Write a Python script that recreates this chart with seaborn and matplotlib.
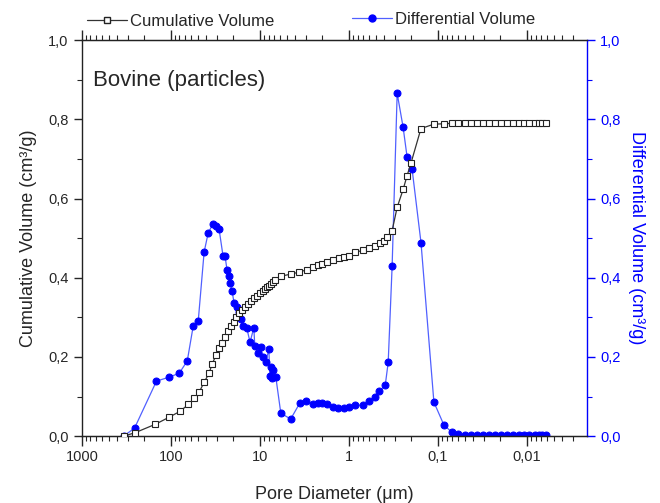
import matplotlib
matplotlib.use("Agg")
import matplotlib.pyplot as plt
import matplotlib.ticker as mticker
from matplotlib.lines import Line2D
import seaborn as sns
import pandas as pd

# ---- data ----
cum_diam = [340, 256, 149, 104, 78.3, 63.7, 54.6, 48.1, 42.3, 37.2, 34.4, 31.0, 28.7,
            26.6, 24.6, 22.8, 21.1, 19.5, 18.5, 17.2, 15.9, 14.7, 13.6, 12.6, 11.7,
            10.8, 10.0, 9.26, 8.79, 8.36, 7.93, 7.53, 7.16, 6.80, 5.82, 4.51, 3.67,
            2.98, 2.56, 2.25, 1.98, 1.74, 1.49, 1.28, 1.15, 1.01, 0.846, 0.689, 0.590,
            0.506, 0.445, 0.401, 0.371, 0.327, 0.287, 0.246, 0.222, 0.200, 0.155,
            0.111, 0.0857, 0.0698, 0.0598, 0.0499, 0.0428, 0.0366, 0.0314, 0.0269,
            0.0231, 0.0198, 0.0169, 0.0145, 0.0124, 0.0107, 0.0094, 0.0082, 0.0074,
            0.0067, 0.0061]
cum_vol = [0.0, 0.008, 0.03, 0.048, 0.063, 0.08, 0.096, 0.111, 0.136, 0.159, 0.182,
           0.205, 0.222, 0.235, 0.25, 0.265, 0.278, 0.288, 0.30, 0.31, 0.318, 0.326,
           0.334, 0.341, 0.348, 0.355, 0.361, 0.366, 0.371, 0.376, 0.380, 0.385,
           0.389, 0.394, 0.404, 0.409, 0.414, 0.42, 0.427, 0.432, 0.435, 0.44, 0.446,
           0.451, 0.453, 0.456, 0.465, 0.469, 0.476, 0.481, 0.487, 0.494, 0.503,
           0.519, 0.578, 0.623, 0.658, 0.691, 0.777, 0.788, 0.789, 0.79, 0.79, 0.79,
           0.79, 0.79, 0.79, 0.79, 0.79, 0.79, 0.79, 0.79, 0.79, 0.79, 0.79, 0.79,
           0.79, 0.79, 0.79]

diff_diam = [340, 256, 145, 104, 80.4, 65.4, 56.1, 49.3, 42.3, 38.1, 33.5, 31.0, 28.7,
             25.9, 24.6, 23.4, 22.2, 21.6, 20.5, 19.5, 18.1, 17.2, 16.3, 15.5, 14.0,
             12.9, 11.7, 11.4, 10.5, 9.75, 9.26, 8.58, 7.93, 7.73, 7.53, 7.34, 7.16,
             6.63, 5.82, 4.51, 3.57, 3.06, 2.56, 2.25, 1.98, 1.74, 1.49, 1.31, 1.15,
             1.01, 0.846, 0.689, 0.590, 0.506, 0.456, 0.391, 0.362, 0.327, 0.287,
             0.246, 0.222, 0.195, 0.155, 0.111, 0.0857, 0.0698, 0.0598, 0.0499,
             0.0428, 0.0366, 0.0314, 0.0269, 0.0231, 0.0198, 0.0169, 0.0145, 0.0124,
             0.0107, 0.0094, 0.0082, 0.0074, 0.0067, 0.0061]
diff_vol = [0.0, 0.02, 0.139, 0.149, 0.159, 0.19, 0.278, 0.29, 0.465, 0.513, 0.537,
            0.53, 0.522, 0.454, 0.454, 0.42, 0.405, 0.386, 0.366, 0.336, 0.325, 0.313,
            0.295, 0.278, 0.272, 0.237, 0.274, 0.227, 0.21, 0.225, 0.199, 0.187, 0.22,
            0.152, 0.174, 0.146, 0.167, 0.15, 0.058, 0.043, 0.083, 0.088, 0.081, 0.083,
            0.083, 0.081, 0.073, 0.071, 0.071, 0.073, 0.078, 0.078, 0.088, 0.1, 0.114,
            0.128, 0.186, 0.429, 0.866, 0.78, 0.705, 0.674, 0.489, 0.086, 0.028, 0.01,
            0.005, 0.003, 0.003, 0.003, 0.003, 0.003, 0.003, 0.003, 0.003, 0.003,
            0.003, 0.003, 0.003, 0.003, 0.003, 0.003, 0.003]

y_ticks = [0.0, 0.2, 0.4, 0.6, 0.8, 1.0]
x_ticks = [1000, 100, 10, 1, 0.1, 0.01]

cum_df = pd.DataFrame({"d": cum_diam, "v": cum_vol})
diff_df = pd.DataFrame({"d": diff_diam, "v": diff_vol})

sns.set_style("ticks")
plt.rcParams["font.family"] = ["Liberation Sans", "DejaVu Sans"]

BLUE = "#0000ff"
LINE_BLUE = "#5060ff"

fig = plt.figure(figsize=(6.6, 5.03), dpi=100)
ax = fig.add_axes([0.124, 0.133, 0.765, 0.787])
ax2 = ax.twinx()

sns.lineplot(data=diff_df, x="d", y="v", ax=ax2, sort=False, estimator=None,
             color=LINE_BLUE, linewidth=0.9, marker="o", markersize=5,
             markerfacecolor=BLUE, markeredgecolor=BLUE, zorder=2)
sns.lineplot(data=cum_df, x="d", y="v", ax=ax, sort=False, estimator=None,
             color="#333333", linewidth=0.9, marker="s", markersize=4.3,
             markerfacecolor="white", markeredgecolor="#222222",
             markeredgewidth=0.8, zorder=3)
ax.set_zorder(ax2.get_zorder() + 1)
ax.patch.set_visible(False)

ax.set_xscale("log")
ax.set_xlim(1000, 0.00213)
for a in (ax, ax2):
    a.set_ylim(0, 1.0)
    a.set_yticks(y_ticks)
    a.yaxis.set_minor_locator(mticker.MultipleLocator(0.1))
    a.yaxis.set_major_formatter(mticker.FuncFormatter(lambda v, p: f"{v:.1f}".replace(".", ",")))

ax.xaxis.set_major_locator(mticker.FixedLocator(x_ticks))
ax.xaxis.set_minor_locator(mticker.LogLocator(base=10, subs=range(2, 10), numticks=20))
ax.xaxis.set_major_formatter(mticker.FuncFormatter(lambda v, p: f"{v:g}".replace(".", ",")))
ax.xaxis.set_minor_formatter(mticker.NullFormatter())

ax.tick_params(axis="x", which="major", direction="out", length=7, width=1,
               top=True, labelsize=10.5, pad=3)
ax.tick_params(axis="x", which="minor", direction="out", length=3.5, width=0.8, top=True)
ax.tick_params(axis="y", which="major", direction="out", length=6, width=1, labelsize=10.5)
ax.tick_params(axis="y", which="minor", direction="out", length=3.5, width=0.8)
ax2.tick_params(axis="y", which="major", direction="out", length=6, width=1,
                labelsize=10.5, colors=BLUE)
ax2.tick_params(axis="y", which="minor", direction="out", length=3.5, width=0.8, colors=BLUE)

for s in ("left", "bottom", "top"):
    ax.spines[s].set_linewidth(1.0)
    ax.spines[s].set_color("#222222")
ax2.spines["right"].set_color(BLUE)
ax2.spines["right"].set_linewidth(1.0)
ax2.spines["left"].set_visible(False)
ax.spines["right"].set_visible(False)

ax.set_xlabel("Pore Diameter (\u03bcm)", fontsize=13, labelpad=16)
ax.set_ylabel("Cumulative Volume (cm\u00b3/g)", fontsize=13, labelpad=8)
ax2.set_ylabel("Differential Volume (cm\u00b3/g)", fontsize=13, color=BLUE,
               rotation=270, labelpad=18)

ax.text(0.022, 0.898, "Bovine (particles)", transform=ax.transAxes,
        fontsize=16, va="center", ha="left")

h1 = Line2D([], [], color="#333333", linewidth=0.9, marker="s", markersize=4.3,
            markerfacecolor="white", markeredgecolor="#222222")
h2 = Line2D([], [], color=LINE_BLUE, linewidth=0.9, marker="o", markersize=5,
            markerfacecolor=BLUE, markeredgecolor=BLUE)
leg1 = fig.legend(handles=[h1], labels=["Cumulative Volume"], loc="center left",
                  bbox_to_anchor=(0.132, 0.957), frameon=False, fontsize=12,
                  handlelength=2.4, handletextpad=0.2, borderaxespad=0, borderpad=0)
leg2 = fig.legend(handles=[h2], labels=["Differential Volume"], loc="center left",
                  bbox_to_anchor=(0.533, 0.962), frameon=False, fontsize=12,
                  handlelength=2.4, handletextpad=0.2, borderaxespad=0, borderpad=0)

fig.savefig("out.png", dpi=100)
